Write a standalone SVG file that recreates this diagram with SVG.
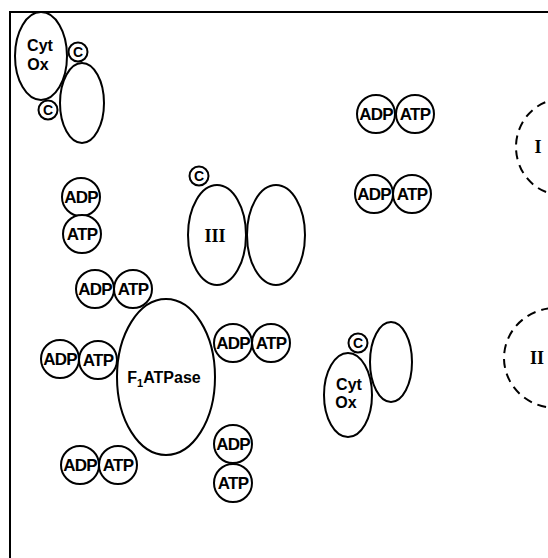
<svg xmlns="http://www.w3.org/2000/svg" width="548" height="558" viewBox="0 0 548 558">
<style>
.o{fill:#fff;stroke:#000;stroke-width:2}
.d{fill:none;stroke:#000;stroke-width:2;stroke-dasharray:9 6}
.t{font-family:"Liberation Sans",Arial,sans-serif;font-size:16px;font-weight:bold;fill:#000;text-anchor:middle}
.p{font-family:"Liberation Sans",Arial,sans-serif;font-size:17px;font-weight:bold;fill:#000;text-anchor:middle;letter-spacing:-0.8px}
.c{font-family:"Liberation Sans",Arial,sans-serif;font-size:14px;font-weight:bold;fill:#000;text-anchor:middle}
.r{font-family:"Liberation Serif","Times New Roman",serif;font-size:18px;font-weight:bold;fill:#000;text-anchor:middle}
</style>
<rect width="548" height="558" fill="#fff"/>
<g id="frame"><path d="M10,558 V12 H548" fill="none" stroke="#000" stroke-width="2"/></g>
<g id="connectors"></g>
<g id="cytox1"><ellipse class="o" cx="41" cy="56" rx="26" ry="44"/><text class="t" x="40" y="51">Cyt</text><text class="t" x="38" y="70">Ox</text></g>
<g id="cytox1-partner"><ellipse class="o" cx="82" cy="103" rx="22" ry="40"/></g>
<g id="c1"><circle class="o" cx="78" cy="52" r="9.5" stroke-width="2.5"/><text class="c" x="78" y="57">C</text></g>
<g id="c2"><circle class="o" cx="48" cy="110" r="9.5" stroke-width="2.5"/><text class="c" x="48" y="115">C</text></g>
<g id="complexIII"><ellipse class="o" cx="276" cy="235" rx="29" ry="50"/><ellipse class="o" cx="217" cy="235" rx="29" ry="50"/><text class="r" x="215" y="242">III</text></g>
<g id="c3"><circle class="o" cx="199" cy="176" r="9.5" stroke-width="2.5"/><text class="c" x="199" y="181">C</text></g>
<g id="complexI"><ellipse class="d" cx="562" cy="147" rx="46" ry="48"/><text class="r" x="538" y="153">I</text></g>
<g id="complexII"><ellipse class="d" cx="556" cy="358" rx="52" ry="50"/><text class="r" x="537" y="364">II</text></g>
<g id="f1atpase"><ellipse class="o" cx="166" cy="377" rx="49" ry="78"/><text class="t" x="164" y="383" font-size="17">F<tspan font-size="11" dy="4">1</tspan><tspan dy="-4">ATPase</tspan></text></g>
<g id="cytox2-partner"><ellipse class="o" cx="391" cy="362" rx="21" ry="40"/></g>
<g id="cytox2"><ellipse class="o" cx="348" cy="395" rx="24" ry="42"/><text class="t" x="349" y="390">Cyt</text><text class="t" x="346" y="408">Ox</text></g>
<g id="c4"><circle class="o" cx="358" cy="343" r="9.5" stroke-width="2.5"/><text class="c" x="358" y="348">C</text></g>
<g id="pair1"><circle class="o" cx="81" cy="197" r="19"/><text class="p" x="81" y="203">ADP</text><circle class="o" cx="82" cy="234" r="19"/><text class="p" x="82" y="240">ATP</text></g>
<g id="pair2"><circle class="o" cx="95" cy="289" r="19"/><text class="p" x="95" y="295">ADP</text><circle class="o" cx="133" cy="289" r="19"/><text class="p" x="133" y="295">ATP</text></g>
<g id="pair3"><circle class="o" cx="60" cy="359" r="19"/><text class="p" x="60" y="365">ADP</text><circle class="o" cx="98" cy="360" r="19"/><text class="p" x="98" y="366">ATP</text></g>
<g id="pair4"><circle class="o" cx="233" cy="343" r="19"/><text class="p" x="233" y="349">ADP</text><circle class="o" cx="271" cy="343" r="19"/><text class="p" x="271" y="349">ATP</text></g>
<g id="pair5"><circle class="o" cx="80" cy="465" r="19"/><text class="p" x="80" y="471">ADP</text><circle class="o" cx="118" cy="465" r="19"/><text class="p" x="118" y="471">ATP</text></g>
<g id="pair6"><circle class="o" cx="233" cy="444" r="19"/><text class="p" x="233" y="450">ADP</text><circle class="o" cx="233" cy="483" r="19"/><text class="p" x="233" y="489">ATP</text></g>
<g id="pair7"><circle class="o" cx="376" cy="114" r="19"/><text class="p" x="376" y="120">ADP</text><circle class="o" cx="415" cy="114" r="19"/><text class="p" x="415" y="120">ATP</text></g>
<g id="pair8"><circle class="o" cx="374" cy="194" r="19"/><text class="p" x="374" y="200">ADP</text><circle class="o" cx="412" cy="194" r="19"/><text class="p" x="412" y="200">ATP</text></g>
</svg>
